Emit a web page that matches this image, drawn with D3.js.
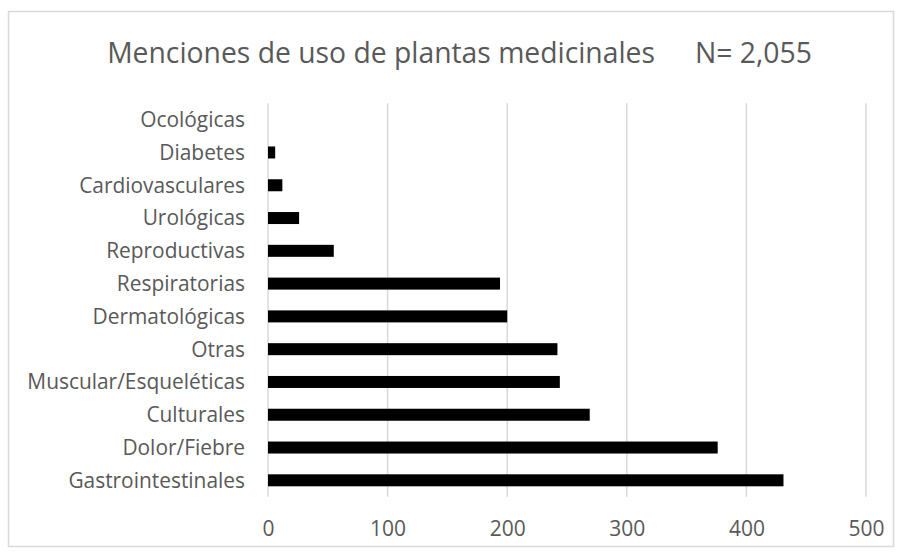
<!DOCTYPE html>
<html>
<head>
<meta charset="utf-8">
<script src="https://cdn.jsdelivr.net/npm/d3@7"></script>
<style>
  html, body { margin: 0; padding: 0; background: #fff; }
  svg { display: block; }
  text { font-family: "Open Sans", sans-serif; fill: #595959; }
</style>
</head>
<body>
<svg id="chart" width="902" height="555"></svg>
<script>
// ---- data ----
const categories = ["Ocológicas", "Diabetes", "Cardiovasculares", "Urológicas", "Reproductivas",
  "Respiratorias", "Dermatológicas", "Otras", "Muscular/Esqueléticas", "Culturales",
  "Dolor/Fiebre", "Gastrointestinales"];
const values = [0, 6, 12, 26, 55, 194, 200, 242, 244, 269, 376, 431];
const xTicks = [0, 100, 200, 300, 400, 500];
const titleMain = "Menciones de uso de plantas medicinales";
const titleN = "N= 2,055";

// ---- layout ----
const plot = { left: 268, right: 866, top: 103.3, bottom: 496.7 };
const FONT = '"Open Sans", sans-serif';

const svg = d3.select("#chart");

// chart border
svg.append("rect")
  .attr("x", 8.5).attr("y", 11.5)
  .attr("width", 885).attr("height", 535)
  .attr("fill", "#fff").attr("stroke", "#d9d9d9").attr("stroke-width", 1.5);

const x = d3.scaleLinear().domain([0, 500]).range([plot.left, plot.right]);
const y = d3.scaleBand().domain(categories).range([plot.top, plot.bottom])
  .paddingInner(0.634).paddingOuter(0.317);

// gridlines
svg.append("g").selectAll("line").data(xTicks).join("line")
  .attr("x1", d => x(d)).attr("x2", d => x(d))
  .attr("y1", plot.top).attr("y2", plot.bottom)
  .attr("stroke", "#d9d9d9").attr("stroke-width", 1.5);

// bars
svg.append("g").selectAll("rect").data(categories).join("rect")
  .attr("x", x(0))
  .attr("y", d => y(d))
  .attr("width", (d, i) => x(values[i]) - x(0))
  .attr("height", y.bandwidth())
  .attr("fill", "#000");

// x axis labels
const xAxis = d3.axisBottom(x).tickValues(xTicks).tickSize(0).tickPadding(0);
const gx = svg.append("g").attr("transform", `translate(0, ${plot.bottom + 39})`).call(xAxis);
gx.select(".domain").remove();
gx.selectAll("text").attr("dy", 0).attr("font-size", 21)
  .style("font-family", FONT).attr("fill", "#595959");

// y axis labels
const yAxis = d3.axisLeft(y).tickSize(0).tickPadding(0);
const gy = svg.append("g").attr("transform", `translate(${plot.left - 23}, 0)`).call(yAxis);
gy.select(".domain").remove();
gy.selectAll("text").attr("font-size", 20.9).attr("dy", "0.35em")
  .style("font-family", FONT).attr("fill", "#595959");

// title
const title = svg.append("text")
  .attr("y", 63)
  .attr("font-size", 28.3)
  .attr("text-anchor", "middle")
  .attr("x", 459.5);
title.append("tspan").text(titleMain);
title.append("tspan").attr("dx", 40).text(titleN);
</script>
</body>
</html>
